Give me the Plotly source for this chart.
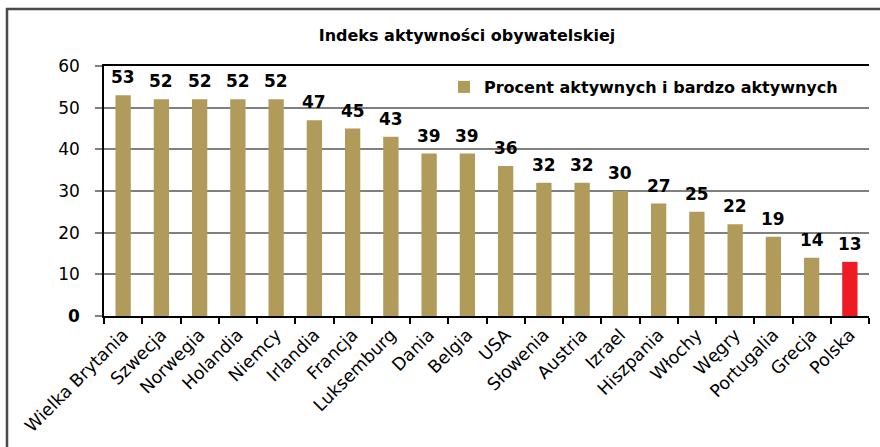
import plotly.graph_objects as go

# Civic activity index by country (percent of active and very active citizens)
countries = ["Wielka Brytania", "Szwecja", "Norwegia", "Holandia", "Niemcy", "Irlandia",
             "Francja", "Luksemburg", "Dania", "Belgia", "USA", "Słowenia", "Austria",
             "Izrael", "Hiszpania", "Włochy", "Węgry", "Portugalia", "Grecja", "Polska"]
values = [53, 52, 52, 52, 52, 47, 45, 43, 39, 39, 36, 32, 32, 30, 27, 25, 22, 19, 14, 13]
highlight = "Polska"

y_ticks = [0, 10, 20, 30, 40, 50, 60]
y_tick_text = ["<b>0</b>"] + [str(v) for v in y_ticks[1:]]

OLIVE = "#B09B5B"
RED = "#ED1C24"
FONT = "DejaVu Sans, Arial, sans-serif"

W, H = 880, 447
L, R, T, B = 104, 11, 66, 131
pw, ph = W - L - R, H - T - B

colors = [RED if c == highlight else OLIVE for c in countries]

fig = go.Figure()
fig.add_trace(go.Bar(
    x=countries, y=values,
    marker=dict(color=colors, line=dict(width=0)),
    name="<b>Procent aktywnych i bardzo aktywnych</b>",
    showlegend=True,
))

# value labels above each bar
for c, v in zip(countries, values):
    fig.add_annotation(x=c, y=v, text=f"<b>{v}</b>", showarrow=False,
                       yanchor="bottom", yshift=6,
                       font=dict(family=FONT, size=17, color="#000000"))

# outer frame of the chart
fig.add_shape(type="rect", xref="paper", yref="paper",
              x0=(7 - L) / pw, x1=(W + 20 - L) / pw,
              y0=-(B + 20) / ph, y1=1 + (T - 9) / ph,
              line=dict(color="#4a4a4a", width=2.5), layer="below")

fig.update_layout(
    width=W, height=H,
    margin=dict(l=L, r=R, t=T, b=B, autoexpand=False),
    paper_bgcolor="white", plot_bgcolor="white",
    bargap=0.6,
    font=dict(family=FONT, color="#000000"),
    title=dict(text="<b>Indeks aktywności obywatelskiej</b>",
               x=(467 - L) / pw, xref="paper", xanchor="center",
               y=1 - 35 / H, yref="container", yanchor="middle",
               font=dict(family=FONT, size=16, color="#000000")),
    legend=dict(x=(444 - L) / pw, y=(H - B - 87) / ph, xanchor="left", yanchor="middle",
                bgcolor="rgba(0,0,0,0)", borderwidth=0,
                font=dict(family=FONT, size=16, color="#000000"),
                itemsizing="constant"),
    showlegend=True,
)

fig.update_xaxes(
    type="category", showline=True, linecolor="#000000", linewidth=1.5, mirror=True,
    ticks="outside", tickson="boundaries", ticklen=6, tickcolor="#000000", tickwidth=1.5,
    tickangle=-45, tickfont=dict(family=FONT, size=17.5, color="#000000"),
    showgrid=False, automargin=False,
)
fig.update_yaxes(
    range=[0, 60], tickvals=y_ticks, ticktext=y_tick_text,
    showline=True, linecolor="#000000", linewidth=1.5,
    ticks="outside", ticklen=7, tickcolor="#808080", tickwidth=1.5,
    showgrid=True, gridcolor="#808080", gridwidth=1.5, zeroline=False,
    tickfont=dict(family=FONT, size=17, color="#000000"),
    automargin=False, ticklabelstandoff=12,
)

fig.write_html("out.html")
